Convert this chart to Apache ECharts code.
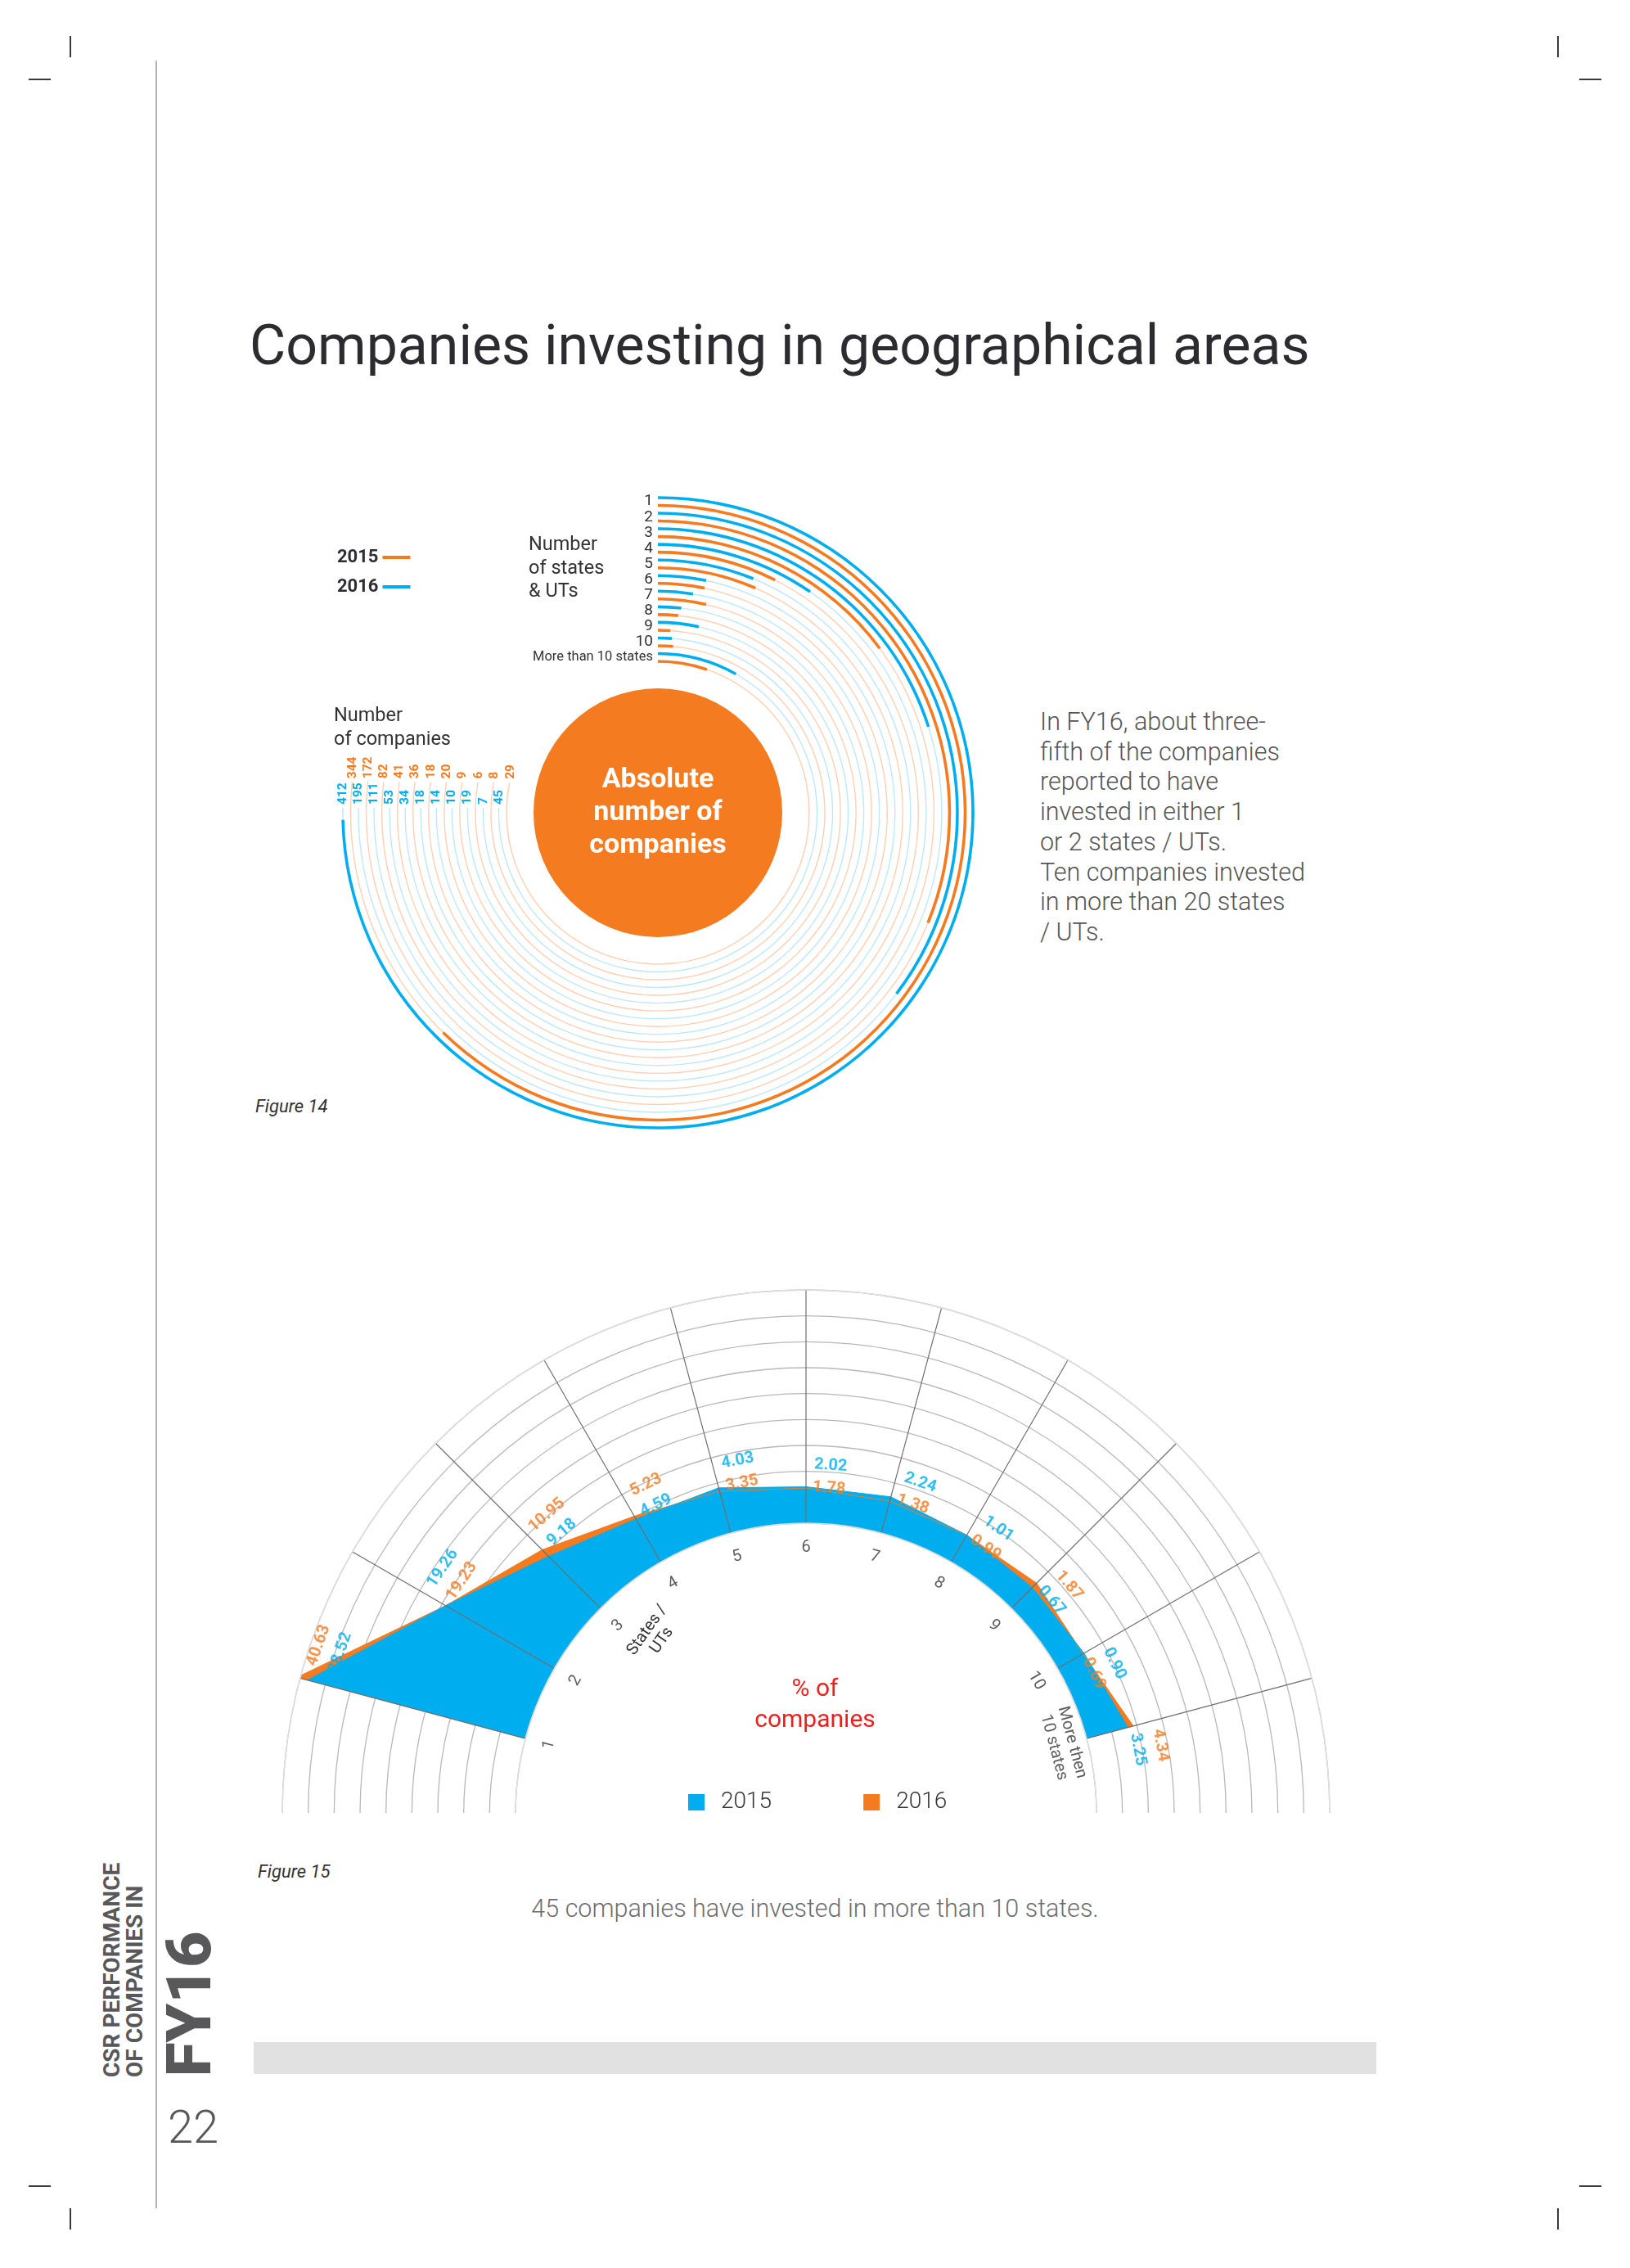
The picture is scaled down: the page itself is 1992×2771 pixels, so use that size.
<!DOCTYPE html>
<html>
<head>
<meta charset="utf-8">
<script src="https://cdn.jsdelivr.net/npm/echarts@6/dist/echarts.min.js"></script>
<style>
  body { margin: 0; background: #fff; }
  #page { position: relative; width: 1992px; height: 2771px; overflow: hidden; font-family: Roboto, "Noto Sans", sans-serif; color: #2b2b30; }
  .abs { position: absolute; white-space: nowrap; }
  .mark { position: absolute; background: #3a3a3a; }
  .rot { position: absolute; white-space: nowrap; transform-origin: 0 0; transform: rotate(-90deg); color: #58585a; }
</style>
</head>
<body>
<div id="page">
  <!-- crop marks -->
  <div class="mark" style="left:85px;top:44px;width:1.5px;height:26px"></div>
  <div class="mark" style="left:35px;top:96px;width:27px;height:1.5px"></div>
  <div class="mark" style="left:1903px;top:44px;width:1.5px;height:26px"></div>
  <div class="mark" style="left:1930px;top:96px;width:27px;height:1.5px"></div>
  <div class="mark" style="left:35px;top:2670px;width:27px;height:1.5px"></div>
  <div class="mark" style="left:85px;top:2698px;width:1.5px;height:26px"></div>
  <div class="mark" style="left:1930px;top:2670px;width:27px;height:1.5px"></div>
  <div class="mark" style="left:1903px;top:2698px;width:1.5px;height:26px"></div>
  <div style="position:absolute;left:190px;top:74px;width:1.5px;height:2624px;background:#b3b3b3"></div>

  <div class="abs" style="left:305px;top:389px;font-size:68px;line-height:66px;color:#2b2b30">Companies investing in geographical areas</div>

  <div class="abs" style="left:1271px;top:864px;font-size:30.5px;line-height:36.7px;font-weight:300;color:#555">
    In FY16, about three-<br>fifth of the companies<br>reported to have<br>invested in either 1<br>or 2 states / UTs.<br>Ten companies invested<br>in more than 20 states<br>/ UTs.
  </div>

  <div class="abs" style="left:312px;top:1340px;font-size:22px;line-height:24px;font-style:italic;color:#333">Figure 14</div>
  <div class="abs" style="left:315px;top:2275px;font-size:22px;line-height:24px;font-style:italic;color:#333">Figure 15</div>
  <div class="abs" style="left:596px;width:800px;text-align:center;top:2315px;font-size:30.5px;line-height:34px;font-weight:300;color:#6d6d6d">45 companies have invested in more than 10 states.</div>
  <div style="position:absolute;left:310px;top:2495px;width:1372px;height:39px;background:#e1e1e1"></div>

  <!-- side bar -->
  <div class="rot" style="left:123px;top:2538px;font-size:28px;line-height:28px;font-weight:700">CSR PERFORMANCE</div>
  <div class="rot" style="left:151px;top:2538px;font-size:28px;line-height:28px;font-weight:700">OF COMPANIES IN</div>
  <div class="rot" style="left:193px;top:2537px;font-size:76px;line-height:76px;font-weight:900">FY16</div>
  <div class="abs" style="left:205px;top:2571px;font-size:56px;line-height:56px;font-weight:300;color:#58585a">22</div>

  <div id="fig14" style="position:absolute;left:380px;top:560px;width:900px;height:860px"></div>
  <div id="fig15" style="position:absolute;left:300px;top:1450px;width:1400px;height:765px"></div>
</div>

<script>
// Figure 14: number of companies by number of states & UTs
const states = ['1', '2', '3', '4', '5', '6', '7', '8', '9', '10', 'More than 10 states'];
const companies2015 = [344, 172, 82, 41, 36, 18, 20, 9, 6, 8, 29];
const companies2016 = [412, 195, 111, 53, 34, 18, 14, 10, 19, 7, 45];

// Figure 15: % of companies by number of states / UTs
const stateBins = ['1', '2', '3', '4', '5', '6', '7', '8', '9', '10', 'More then\n10 states'];
const share2015 = [38.52, 19.26, 9.18, 4.59, 4.03, 2.02, 2.24, 1.01, 0.67, 0.90, 3.25];
const share2016 = [40.63, 19.23, 10.95, 5.23, 3.35, 1.78, 1.38, 0.99, 1.87, 0.69, 4.34];

const ORANGE = '#f47b20';
const BLUE = '#00aeef';
const ORANGE_LT = '#fcd0b2';
const BLUE_LT = '#bde8f8';

// ---------- Figure 14 ----------
const chart14 = echarts.init(document.getElementById('fig14'));
const c14 = [424, 433];
const rIn14 = 180.2, rOut14 = 389.8;
const band = (rOut14 - rIn14) / states.length;
const ringGap = band / 2;
const angleMax = 552; // value of a full turn (412 is about 268 degrees)

const order = states.map((s, i) => i).reverse(); // innermost ring = last category
const ringCats = order.map(i => states[i]);

// light tracks run to 9 o'clock, lifted a bit so the labels sit in a row
function trackEnd(k, outer, lift) {
    const r = rIn14 + band * (k + 0.5) + (outer ? ringGap / 2 : -ringGap / 2);
    const deg = 270 + Math.atan(lift / r) * 180 / Math.PI;
    return deg / 360 * angleMax;
}

const barW = 3.6, trackW = 1.4;
const hiddenAxis = { axisLine: { show: false }, axisTick: { show: false }, axisLabel: { show: false }, splitLine: { show: false } };

const trackLabel = {
    show: true, position: 'end', distance: 4, rotate: Math.PI / 2, align: 'left', verticalAlign: 'middle',
    fontSize: 15.5, fontWeight: 'bold', fontFamily: 'Roboto'
};

const option14 = {
    animation: false,
    legend: {
        data: ['2015', '2016'],
        orient: 'vertical',
        left: 27, top: 105,
        align: 'right',
        icon: 'rect',
        itemWidth: 34, itemHeight: 4, itemGap: 14,
        textStyle: { fontSize: 22, fontWeight: 'bold', color: '#2d2d33', fontFamily: 'Roboto' },
        selectedMode: false
    },
    graphic: [
        { type: 'text', left: 266, top: 92, style: { text: 'Number\nof states\n& UTs', fontSize: 23.5, lineHeight: 28.5, fill: '#333', fontFamily: 'Roboto' } },
        { type: 'text', left: 28, top: 301, style: { text: 'Number\nof companies', fontSize: 23.5, lineHeight: 28.5, fill: '#333', fontFamily: 'Roboto' } }
    ],
    polar: [
        { center: c14, radius: [rIn14, rOut14] },
        { center: c14, radius: [rIn14, rOut14] }
    ],
    angleAxis: [
        Object.assign({ polarIndex: 0, type: 'value', min: 0, max: angleMax, startAngle: 90, clockwise: true }, hiddenAxis),
        Object.assign({ polarIndex: 1, type: 'value', min: 0, max: angleMax, startAngle: 90, clockwise: true }, hiddenAxis)
    ],
    radiusAxis: [
        Object.assign({ polarIndex: 0, type: 'category', data: ringCats }, hiddenAxis),
        {
            polarIndex: 1, type: 'category', data: ringCats,
            axisLine: { show: false }, axisTick: { show: false }, splitLine: { show: false },
            axisLabel: {
                show: true, interval: 0, margin: 6,
                fontSize: 19, color: '#333', fontFamily: 'Roboto',
                formatter: v => v.length > 3 ? '{s|' + v + '}' : v,
                rich: { s: { fontSize: 16.5, color: '#333', fontFamily: 'Roboto' } }
            }
        }
    ],
    series: [
        {
            name: 'track2015', type: 'bar', coordinateSystem: 'polar', polarIndex: 0,
            barWidth: trackW, barGap: ((ringGap - trackW) / trackW * 100) + '%',
            data: order.map((i, k) => trackEnd(k, false, 38)),
            itemStyle: { color: ORANGE_LT }, silent: true,
            label: Object.assign({ color: ORANGE, formatter: p => String(companies2015[order[p.dataIndex]]) }, trackLabel)
        },
        {
            name: 'track2016', type: 'bar', coordinateSystem: 'polar', polarIndex: 0,
            barWidth: trackW, barGap: ((ringGap - trackW) / trackW * 100) + '%',
            data: order.map((i, k) => trackEnd(k, true, 6)),
            itemStyle: { color: BLUE_LT }, silent: true,
            label: Object.assign({ color: BLUE, formatter: p => String(companies2016[order[p.dataIndex]]) }, trackLabel)
        },
        {
            name: '2015', type: 'bar', coordinateSystem: 'polar', polarIndex: 1,
            barWidth: barW, barGap: ((ringGap - barW) / barW * 100) + '%',
            data: order.map(i => companies2015[i]),
            itemStyle: { color: ORANGE }
        },
        {
            name: '2016', type: 'bar', coordinateSystem: 'polar', polarIndex: 1,
            barWidth: barW, barGap: ((ringGap - barW) / barW * 100) + '%',
            data: order.map(i => companies2016[i]),
            itemStyle: { color: BLUE }
        },
        {
            type: 'pie', center: c14, radius: [0, 152], silent: true,
            data: [{ value: 1, name: 'Absolute\nnumber of\ncompanies' }],
            itemStyle: { color: ORANGE },
            label: { position: 'center', formatter: '{b}', color: '#fff', fontSize: 34, lineHeight: 40, fontWeight: 'bold', fontFamily: 'Roboto' },
            labelLine: { show: false }
        }
    ]
};
chart14.setOption(option14);

// ---------- Figure 15 ----------
const chart15 = echarts.init(document.getElementById('fig15'));
const c15 = [685, 766];
const rIn15 = 355, rOut15 = 640, rMin = -5, rMax = 40;
const pxPerUnit = (rOut15 - rIn15) / (rMax - rMin);
const slots = 24, start15 = 165; // 15 degrees per bin, bin "1" at 165 degrees
const angleOf = a => start15 - a * 360 / slots;

// bin names inside the inner ring
const binLabels = stateBins.map((name, i) => ({
    name: name,
    value: [rMin - 30 / pxPerUnit, i],
    label: { rotate: angleOf(i) - 90 }
}));

// value labels beside each spoke, the larger value outside
const valueLabels = [];
share2015.forEach((v15, i) => {
    const v16 = share2016[i];
    const top = Math.max(v15, v16);
    const outerR = Math.min(top + 27 / pxPerUnit, rMax - 10 / pxPerUnit);
    const innerR = outerR - 28 / pxPerUnit;
    const a = i + 0.27;
    const rot = angleOf(a) - 90;
    const blueOuter = v15 >= v16;
    valueLabels.push({ name: v15.toFixed(2), value: [blueOuter ? outerR : innerR, a], label: { rotate: rot, color: BLUE } });
    valueLabels.push({ name: v16.toFixed(2), value: [blueOuter ? innerR : outerR, a], label: { rotate: rot, color: ORANGE } });
});

const option15 = {
    animation: false,
    legend: {
        data: ['2015', '2016'],
        left: 536, top: 733,
        icon: 'rect', itemWidth: 20, itemHeight: 20, itemGap: 112,
        textStyle: { fontSize: 28, color: '#333', fontWeight: 300, fontFamily: 'Roboto', padding: [0, 0, 0, 15] },
        selectedMode: false
    },
    graphic: [
        { type: 'text', x: 696, y: 633, style: { text: '% of\ncompanies', align: 'center', verticalAlign: 'middle', fontSize: 30, lineHeight: 38, fill: '#e8231f', fontFamily: 'Roboto' } },
        { type: 'text', x: 500, y: 548, rotation: 55 * Math.PI / 180, style: { text: 'States /\nUTs', align: 'center', verticalAlign: 'middle', fontSize: 20, lineHeight: 22, fill: '#333', fontFamily: 'Roboto' } }
    ],
    polar: { center: c15, radius: [rIn15, rOut15] },
    angleAxis: {
        type: 'value', min: 0, max: slots, interval: 1, startAngle: start15, clockwise: true, z: 10,
        axisLine: { show: true, lineStyle: { color: '#dedede', width: 1.5 } },
        axisTick: { show: false }, axisLabel: { show: false },
        splitLine: { show: true, lineStyle: { color: '#6e6e6e', width: 1.2 } }
    },
    radiusAxis: {
        type: 'value', min: rMin, max: rMax, interval: 5,
        axisLine: { show: false }, axisTick: { show: false }, axisLabel: { show: false },
        splitLine: { show: true, lineStyle: { color: '#b8b8b8', width: 1.3 } }
    },
    series: [
        {
            name: '2016', type: 'line', coordinateSystem: 'polar', clip: false,
            data: share2016.map((v, i) => [v, i]),
            symbol: 'none',
            itemStyle: { color: ORANGE },
            lineStyle: { color: ORANGE, width: 1 },
            areaStyle: { color: ORANGE, opacity: 1, origin: 'start' }
        },
        {
            name: '2015', type: 'line', coordinateSystem: 'polar', clip: false,
            data: share2015.map((v, i) => [v, i]),
            symbol: 'none',
            itemStyle: { color: BLUE },
            lineStyle: { color: BLUE, width: 1 },
            areaStyle: { color: BLUE, opacity: 1, origin: 'start' }
        },
        {
            type: 'scatter', coordinateSystem: 'polar', clip: false, silent: true, z: 12,
            symbolSize: 1, itemStyle: { color: 'rgba(0,0,0,0)' },
            data: binLabels,
            label: { show: true, position: 'inside', formatter: '{b}', fontSize: 20, lineHeight: 23, color: '#333', fontFamily: 'Roboto' }
        },
        {
            type: 'scatter', coordinateSystem: 'polar', clip: false, silent: true, z: 12,
            symbolSize: 1, itemStyle: { color: 'rgba(0,0,0,0)' },
            data: valueLabels,
            label: { show: true, position: 'inside', formatter: '{b}', fontSize: 20, fontWeight: 'bold', fontFamily: 'Roboto' }
        }
    ]
};
chart15.setOption(option15);
</script>
</body>
</html>
